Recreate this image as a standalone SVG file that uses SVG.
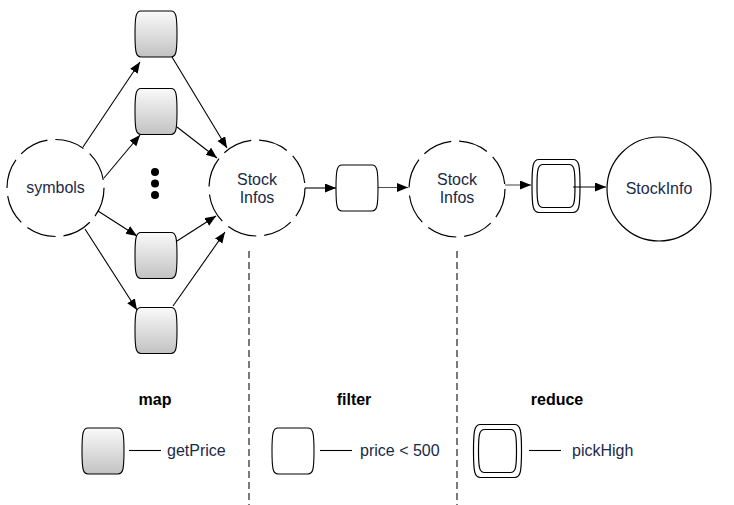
<svg xmlns="http://www.w3.org/2000/svg" width="734" height="505" viewBox="0 0 734 505">
<style>
.txt{font-family:"Liberation Sans",Arial,sans-serif;font-size:16px;fill:#1a2a48}
.ttl{font-family:"Liberation Sans",Arial,sans-serif;font-size:16px;font-weight:bold;fill:#000}
.dcirc{fill:#fff;stroke:#000;stroke-width:1.2;stroke-dasharray:30 8}
.scirc{fill:#fff;stroke:#000;stroke-width:1.2}
.mapn{fill:url(#g);stroke:#000;stroke-width:1.1}
.fn{fill:#fff;stroke:#000;stroke-width:1.1}
.rn{fill:#fff;stroke:#000;stroke-width:1.2}
.con{stroke:#000;stroke-width:1.1;fill:none;marker-end:url(#ah)}
.leg{stroke:#000;stroke-width:1.1}
.sep{stroke:#222;stroke-width:1.2;stroke-dasharray:7 4}
</style>
<defs>
<linearGradient id="g" x1="0" y1="0" x2="0" y2="1">
<stop offset="0" stop-color="#fafafa"/>
<stop offset="1" stop-color="#c2c2c2"/>
</linearGradient>
<marker id="ah" markerUnits="userSpaceOnUse" markerWidth="12" markerHeight="10" refX="11" refY="4.5" orient="auto">
<path d="M0,0 L11,4.5 L0,9 z" fill="#000"/>
</marker>
<path id="barrel" d="M-15,-23 H15 C20,-23 21,-18 21,0 C21,18 20,23 15,23 H-15 C-20,23 -21,18 -21,0 C-21,-18 -20,-23 -15,-23 Z"/>
<path id="rout" d="M-17,-26.5 H17 C23,-26.5 24,-21 24,0 C24,21 23,26.5 17,26.5 H-17 C-23,26.5 -24,21 -24,0 C-24,-21 -23,-26.5 -17,-26.5 Z"/>
<path id="rin" d="M-13,-21.5 H13 C18,-21.5 19,-17 19,0 C19,17 18,21.5 13,21.5 H-13 C-18,21.5 -19,17 -19,0 C-19,-17 -18,-21.5 -13,-21.5 Z"/>
</defs>

<g id="separators">
<line class="sep" x1="249" y1="251" x2="249" y2="505"/>
<line class="sep" x1="457" y1="251" x2="457" y2="505"/>
</g>

<g id="connectors">
<line class="con" x1="83" y1="147" x2="140" y2="62"/>
<line class="con" x1="104" y1="178" x2="140" y2="135"/>
<line class="con" x1="98" y1="211" x2="137" y2="236"/>
<line class="con" x1="85" y1="229" x2="137" y2="310"/>
<line class="con" x1="172" y1="57" x2="227" y2="148"/>
<line class="con" x1="177" y1="127" x2="217" y2="158"/>
<line class="con" x1="177" y1="241" x2="216" y2="216"/>
<line class="con" x1="173" y1="306" x2="225" y2="232"/>
<line class="con" x1="305" y1="188" x2="336" y2="188"/>
<line class="con" x1="378" y1="187.5" x2="408" y2="187.5" style="stroke:#555"/>
<line class="con" x1="505" y1="185" x2="531" y2="185" style="stroke:#555"/>
</g>

<g id="symbols">
<circle class="dcirc" cx="55.5" cy="188" r="48.5"/>
<text class="txt" x="55.5" y="193" text-anchor="middle">symbols</text>
</g>

<g id="map1"><use href="#barrel" class="mapn" transform="translate(156,34)"/></g>
<g id="map2"><use href="#barrel" class="mapn" transform="translate(156,111.5)"/></g>
<g id="ellipsis">
<circle cx="155" cy="172" r="4" fill="#000"/>
<circle cx="155" cy="183.5" r="4" fill="#000"/>
<circle cx="155" cy="195" r="4" fill="#000"/>
</g>
<g id="map3"><use href="#barrel" class="mapn" transform="translate(156,255.5)"/></g>
<g id="map4"><use href="#barrel" class="mapn" transform="translate(156,330.5)"/></g>

<g id="stockinfos1">
<circle class="dcirc" cx="257" cy="188" r="48"/>
<text class="txt" x="257" y="185" text-anchor="middle">Stock</text>
<text class="txt" x="257" y="203" text-anchor="middle">Infos</text>
</g>

<g id="filter"><use href="#barrel" class="fn" transform="translate(357,188)"/></g>

<g id="stockinfos2">
<circle class="dcirc" cx="457" cy="189" r="48"/>
<text class="txt" x="457" y="185" text-anchor="middle">Stock</text>
<text class="txt" x="457" y="203" text-anchor="middle">Infos</text>
</g>

<g id="reduce">
<use href="#rout" class="rn" transform="translate(556,186)"/>
<use href="#rin" class="rn" transform="translate(556,186)"/>
</g>

<g id="connector-reduce">
<line class="con" x1="573" y1="187" x2="606" y2="187"/>
</g>

<g id="stockinfo">
<circle class="scirc" cx="659" cy="189" r="52"/>
<text class="txt" x="659" y="194" text-anchor="middle">StockInfo</text>
</g>

<g id="legend-map">
<text class="ttl" x="155" y="405" text-anchor="middle">map</text>
<use href="#barrel" class="mapn" transform="translate(103,451)"/>
<line class="leg" x1="129" y1="450.5" x2="161" y2="450.5"/>
<text class="txt" x="167" y="456">getPrice</text>
</g>

<g id="legend-filter">
<text class="ttl" x="354" y="405" text-anchor="middle">filter</text>
<use href="#barrel" class="fn" transform="translate(293,451)"/>
<line class="leg" x1="320" y1="450.5" x2="352" y2="450.5"/>
<text class="txt" x="360" y="456">price &lt; 500</text>
</g>

<g id="legend-reduce">
<text class="ttl" x="557" y="405" text-anchor="middle">reduce</text>
<use href="#rout" class="rn" transform="translate(497.5,451)"/>
<use href="#rin" class="rn" transform="translate(497.5,451)"/>
<line class="leg" x1="529" y1="450.5" x2="561" y2="450.5"/>
<text class="txt" x="572" y="456">pickHigh</text>
</g>
</svg>
